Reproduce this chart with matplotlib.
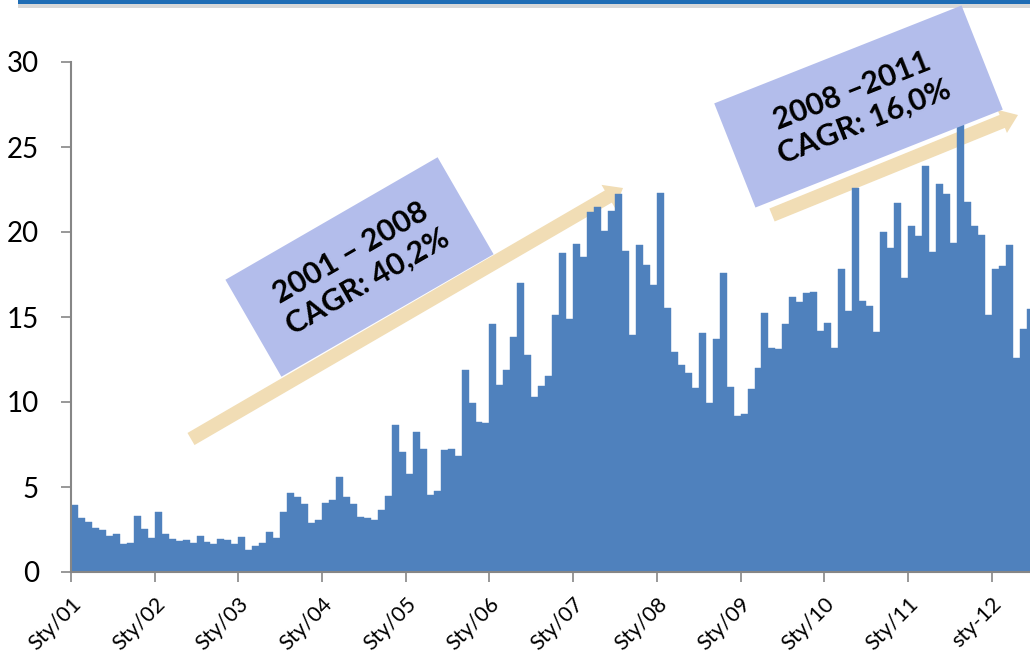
import matplotlib
matplotlib.use("Agg")
import matplotlib.pyplot as plt
from matplotlib.patches import Rectangle, FancyArrow
import numpy as np

# monthly values, Jan 2001 .. Jun 2012
values = [
    3.92, 3.16, 2.92, 2.57, 2.47, 2.14, 2.25, 1.65, 1.69, 3.27, 2.53, 2.00,
    3.51, 2.25, 1.92, 1.84, 1.88, 1.71, 2.12, 1.75, 1.67, 1.92, 1.88, 1.67,
    2.04, 1.29, 1.53, 1.69, 2.35, 2.02, 3.55, 4.63, 4.43, 3.98, 2.88, 3.06,
    4.08, 4.25, 5.57, 4.39, 3.98, 3.24, 3.18, 3.08, 3.63, 4.45, 8.65, 7.08,
    5.74, 8.22, 7.22, 4.51, 4.75, 7.16, 7.22, 6.84, 11.86, 9.92, 8.82, 8.75,
    14.57, 10.98, 11.90, 13.84, 16.98, 12.75, 10.27, 10.96, 11.53, 15.10, 18.78, 14.87,
    19.29, 18.53, 21.2, 21.5, 20.06, 21.25, 22.25, 18.9, 13.94, 19.25, 18.06, 16.86,
    22.27, 15.51, 12.92, 12.16, 11.73, 10.82, 14.06, 9.94, 13.73, 17.57, 10.86, 9.16,
    9.31, 10.74, 11.99, 15.22, 13.16, 13.14, 14.57, 16.16, 15.88, 16.41, 16.47, 14.16,
    14.65, 13.16, 17.84, 15.37, 22.57, 15.96, 15.62, 14.10, 20.00, 19.08, 21.73, 17.27,
    20.35, 19.76, 23.90, 18.84, 22.84, 22.24, 19.33, 26.3, 21.76, 20.35, 19.84, 15.14,
    17.80, 18.00, 19.25, 12.59, 14.31, 15.45,
]
year_labels = ["Sty/01", "Sty/02", "Sty/03", "Sty/04", "Sty/05", "Sty/06",
               "Sty/07", "Sty/08", "Sty/09", "Sty/10", "Sty/11", "sty-12"]
y_ticks = [0, 5, 10, 15, 20, 25, 30]

plt.rcParams['font.family'] = ['Lato', 'DejaVu Sans']

W, H = 1030, 659
fig = plt.figure(figsize=(W / 100, H / 100), dpi=100)

# background layer in pixel units (arrows, banner)
bg = fig.add_axes([0, 0, 1, 1], zorder=0)
bg.set_xlim(0, W)
bg.set_ylim(0, H)
bg.axis("off")

# top banner line with a soft shadow
bg.add_patch(Rectangle((18, H - 8), W - 18, 5, color="#d8d8d8", lw=0))
bg.add_patch(Rectangle((18, H - 3.5), W - 18, 3.5, color="#1f6db5", lw=0))

arrow_color = "#f1ddb5"
bg.add_patch(FancyArrow(191, H - 439, 623 - 191, 439 - 188, width=14,
                        head_width=27, head_length=17,
                        length_includes_head=True, color=arrow_color, lw=0))
bg.add_patch(FancyArrow(772, H - 215, 1018 - 772, 215 - 115, width=14,
                        head_width=25, head_length=17,
                        length_includes_head=True, color=arrow_color, lw=0))

ax = fig.add_axes([71 / W, (H - 572) / H, (W - 71) / W, 510 / H], zorder=1)
ax.patch.set_alpha(0)

x = np.arange(len(values))
ax.bar(x, values, width=1.0, color="#4f81bd", edgecolor="#4f81bd", lw=0.3)

ax.set_xlim(-0.5, len(values) - 1)
ax.set_ylim(0, 30)
ax.set_yticks(y_ticks)
ax.set_yticklabels([str(v) for v in y_ticks], fontsize=20)
tick_pos = [-0.5 + 12 * k for k in range(len(year_labels))]
ax.set_xticks(tick_pos)
ax.set_xticklabels(year_labels, fontsize=15.5, rotation=45, ha="right",
                   va="top", rotation_mode="anchor")
ax.tick_params(axis="both", direction="out", length=7, color="#868686",
               width=1.2)
ax.tick_params(axis="x", pad=9)
ax.tick_params(axis="y", pad=16)
for side in ["top", "right"]:
    ax.spines[side].set_visible(False)
for side in ["left", "bottom"]:
    ax.spines[side].set_color("#868686")
    ax.spines[side].set_linewidth(1.5)

# annotation boxes on top
top = fig.add_axes([0, 0, 1, 1], zorder=2)
top.set_xlim(0, W)
top.set_ylim(0, H)
top.axis("off")

box_color = "#b3bdeb"
boxes = [
    (359.5, 267, 245, 112, 30.0, "2001 \u2013 2008\nCAGR: 40,2%"),
    (858.5, 106.5, 266, 112, 21.6, "2008 \u20132011\nCAGR: 16,0%"),
]
for cx, cy, w, h, ang, label in boxes:
    cy = H - cy
    top.add_patch(Rectangle((cx - w / 2, cy - h / 2), w, h, angle=ang,
                            rotation_point="center", color=box_color, lw=0))
    top.text(cx, cy, label, rotation=ang, rotation_mode="anchor",
             ha="center", va="center", fontsize=22, fontweight="bold",
             linespacing=1.25, color="black")

fig.savefig("out.png", dpi=100)
